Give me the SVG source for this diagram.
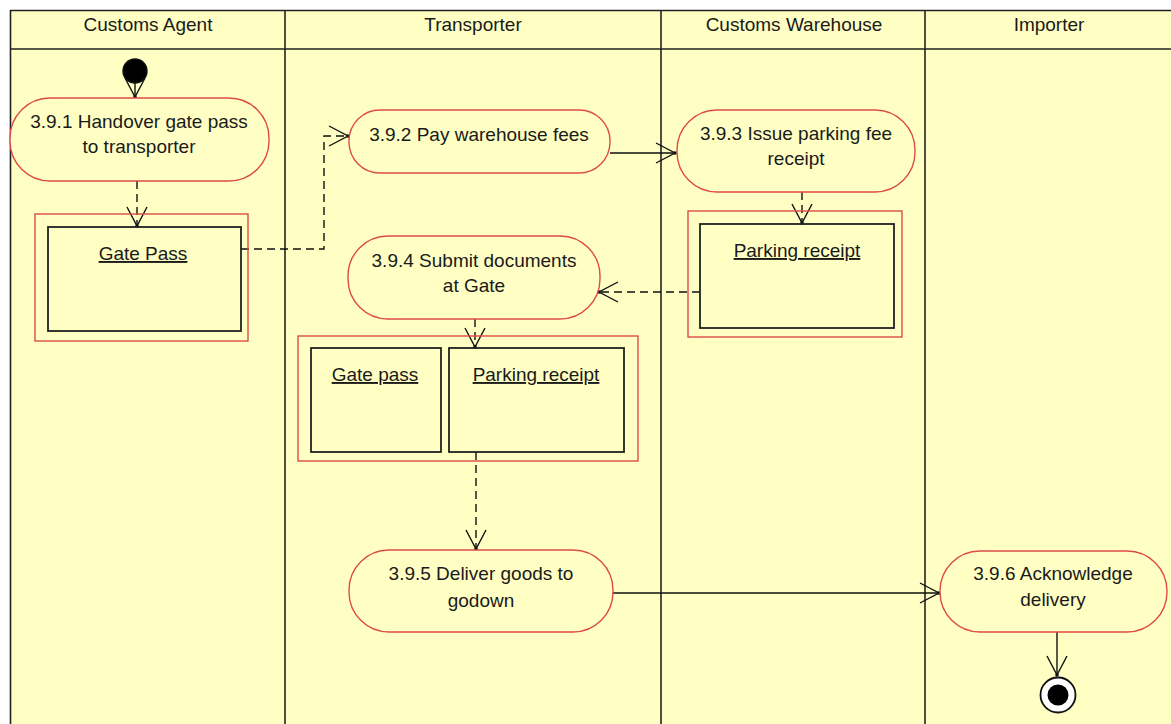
<svg xmlns="http://www.w3.org/2000/svg" width="1171" height="724" viewBox="0 0 1171 724">
<style>
text{font-family:"Liberation Sans",Arial,sans-serif;font-size:19px;fill:#1a1a1a;text-anchor:middle}
.lane{stroke:#222;stroke-width:1.6;fill:none}
.act{fill:#ffffc4;stroke:#dd4a4a;stroke-width:1.4}
.obj{fill:none;stroke:#222;stroke-width:1.8}
.objo{fill:none;stroke:#dd4a4a;stroke-width:1.4}
.flow{stroke:#111;stroke-width:1.4;fill:none}
.dash{stroke-dasharray:8,5}
.ul{text-decoration:underline}
</style>
<defs>
<marker id="v" markerUnits="userSpaceOnUse" markerWidth="24" markerHeight="24" viewBox="-22 -12 24 24" refX="0" refY="0" orient="auto">
<path d="M-19,-10 L0,0 L-19,10" fill="none" stroke="#111" stroke-width="1.4"/>
<circle cx="0" cy="0" r="1.8" fill="#111"/>
</marker>
</defs>
<rect x="0" y="0" width="1171" height="724" fill="#ffffff"/>
<rect x="10" y="10" width="1161" height="714" fill="#ffffc4"/>
<g id="swimlanes">
<line class="lane" x1="10" y1="10.5" x2="1171" y2="10.5"/>
<line class="lane" x1="10" y1="49" x2="1171" y2="49"/>
<line class="lane" x1="10.5" y1="10" x2="10.5" y2="724"/>
<line class="lane" x1="285" y1="10" x2="285" y2="724"/>
<line class="lane" x1="661" y1="10" x2="661" y2="724"/>
<line class="lane" x1="925" y1="10" x2="925" y2="724"/>
<text x="148" y="31">Customs Agent</text>
<text x="473" y="31">Transporter</text>
<text x="794" y="31">Customs Warehouse</text>
<text x="1049" y="31">Importer</text>
</g>
<g id="connectors">
<path class="flow" d="M135,80 L135,97" marker-end="url(#v)"/>
<path class="flow dash" d="M137,181 L137,226" marker-end="url(#v)"/>
<path class="flow dash" d="M241,249 L324,249 L324,136 L348,136" marker-end="url(#v)"/>
<path class="flow" d="M610,153 L675,153" marker-end="url(#v)"/>
<path class="flow dash" d="M802,192 L802,223" marker-end="url(#v)"/>
<path class="flow dash" d="M700,292 L599,292" marker-end="url(#v)"/>
<path class="flow dash" d="M475,319 L475,347" marker-end="url(#v)"/>
<path class="flow dash" d="M476,452 L476,549" marker-end="url(#v)"/>
<path class="flow" d="M613,593 L939,593" marker-end="url(#v)"/>
<path class="flow" d="M1057,632 L1057,675" marker-end="url(#v)"/>
</g>
<g id="start">
<circle cx="135" cy="71" r="12" fill="#000" stroke="#111" stroke-width="1.4"/>
</g>
<g id="a391">
<rect class="act" x="10" y="98" width="259" height="83" rx="40" ry="40"/>
<text x="139" y="128">3.9.1 Handover gate pass</text>
<text x="139" y="153">to transporter</text>
</g>
<g id="gatepass1">
<rect class="objo" x="35" y="214" width="213" height="127"/>
<rect class="obj" x="48" y="227" width="193" height="104"/>
<text class="ul" x="143" y="260">Gate Pass</text>
</g>
<g id="a392">
<rect class="act" x="349" y="110" width="261" height="63" rx="31" ry="31"/>
<text x="479" y="141">3.9.2 Pay warehouse fees</text>
</g>
<g id="a393">
<rect class="act" x="677" y="110" width="238" height="82" rx="40" ry="40"/>
<text x="796" y="140">3.9.3 Issue parking fee</text>
<text x="796" y="165">receipt</text>
</g>
<g id="parking1">
<rect class="objo" x="688" y="211" width="214" height="126"/>
<rect class="obj" x="700" y="224" width="194" height="104"/>
<text class="ul" x="797" y="257">Parking receipt</text>
</g>
<g id="a394">
<rect class="act" x="348" y="236" width="252" height="83" rx="40" ry="40"/>
<text x="474" y="267">3.9.4 Submit documents</text>
<text x="474" y="292">at Gate</text>
</g>
<g id="docs">
<rect class="objo" x="298" y="336" width="340" height="125"/>
<rect class="obj" x="311" y="348" width="130" height="104"/>
<text class="ul" x="375" y="381">Gate pass</text>
<rect class="obj" x="449" y="348" width="175" height="104"/>
<text class="ul" x="536" y="381">Parking receipt</text>
</g>
<g id="a395">
<rect class="act" x="349" y="550" width="264" height="82" rx="40" ry="40"/>
<text x="481" y="580">3.9.5 Deliver goods to</text>
<text x="481" y="607">godown</text>
</g>
<g id="a396">
<rect class="act" x="940" y="551" width="227" height="81" rx="40" ry="40"/>
<text x="1053" y="580">3.9.6 Acknowledge</text>
<text x="1053" y="606">delivery</text>
</g>
<g id="end">
<circle cx="1058" cy="695" r="17.5" fill="#fff" stroke="#111" stroke-width="1.8"/>
<circle cx="1058" cy="695" r="10.5" fill="#000"/>
</g>
</svg>
